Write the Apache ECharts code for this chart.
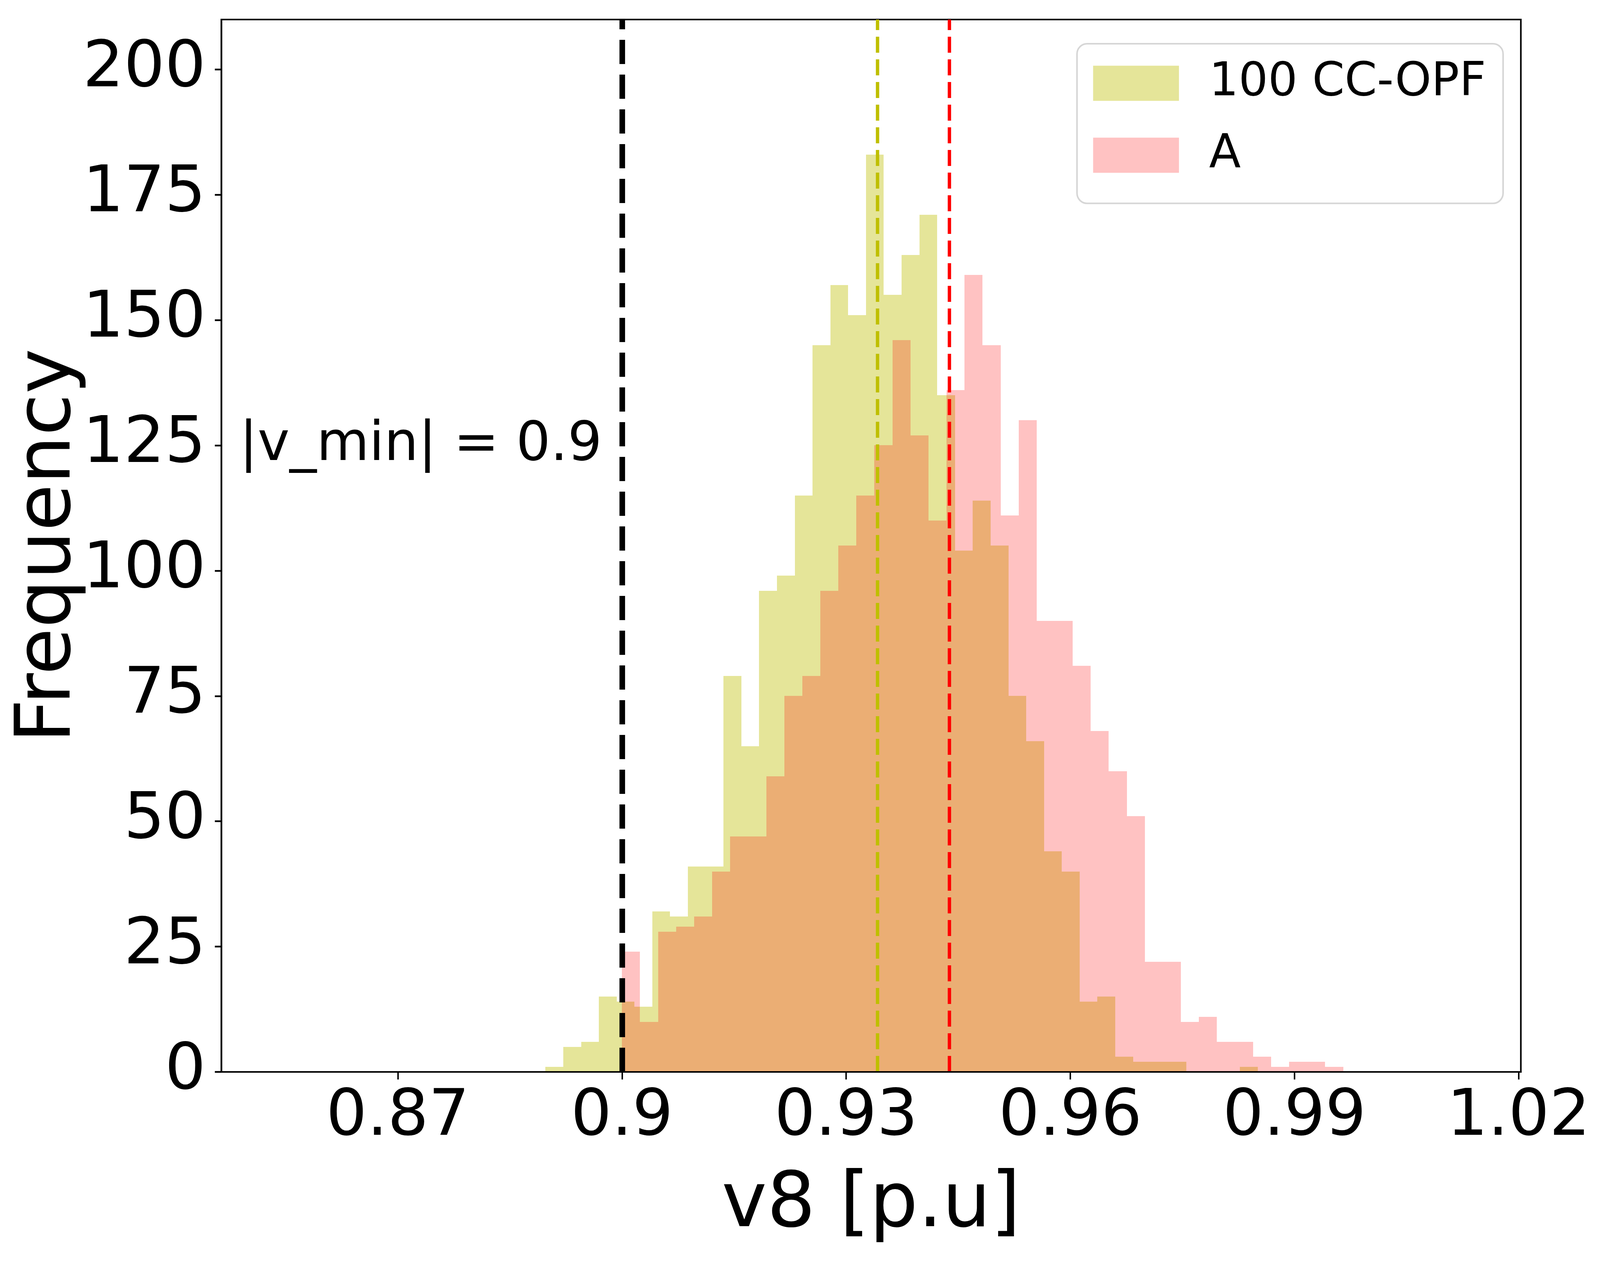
<!DOCTYPE html>
<html>
<head>
<meta charset="utf-8">
<script src="https://cdn.jsdelivr.net/npm/echarts@6/dist/echarts.min.js"></script>
<style>
html,body{margin:0;padding:0;background:#fff;overflow:hidden;}
#chart{width:100vw;height:100vh;}
</style>
</head>
<body>
<div id="chart"></div>
<script>
// ---- data ----
const seriesNames = ['100 CC-OPF', 'A'];
// histogram "100 CC-OPF": 40 bins
const ccopfBinStart = 0.88976;
const ccopfBinWidth = 0.002383;
const ccopfCounts = [1, 5, 6, 15, 14, 13, 32, 31, 41, 41, 79, 65, 96, 99, 115, 145, 157, 151, 183, 155,
                     163, 171, 135, 104, 114, 105, 75, 66, 44, 40, 14, 15, 3, 2, 2, 2, 0, 0, 0, 1];
// histogram "A": 40 bins
const aBinStart = 0.9000;
const aBinWidth = 0.002413;
const aCounts = [24, 10, 28, 29, 31, 40, 47, 47, 59, 75, 79, 96, 105, 115, 125, 146, 127, 110, 136, 159,
                 145, 111, 130, 90, 90, 81, 68, 60, 51, 22, 22, 10, 11, 6, 6, 3, 1, 2, 2, 1];
// vertical reference lines
const vMinLimit = 0.9;
const ccopfMean = 0.93418;
const aMean = 0.94382;
const annotationText = '|v_min| = 0.9';
const annotationPos = [0.84880, 124.9];
// axes
const xTicks = [0.87, 0.9, 0.93, 0.96, 0.99, 1.02];
const yTicks = [0, 25, 50, 75, 100, 125, 150, 175, 200];
const xRange = [0.84638, 1.0203];
const yRange = [0, 209.95];
const xAxisName = 'v8 [p.u]';
const yAxisName = 'Frequency';

// ---- layout: designed for 4771x3242, scaled to the real viewport ----
const W = window.innerWidth || 4771, H = window.innerHeight || 3242;
const sx = W / 4771, sy = H / 3242, sf = Math.sqrt(sx * sy);
const X = v => v * sx, Y = v => v * sy, F = v => v * sf;

function toBins(start, width, counts) {
  return counts.map((c, i) => [start + i * width, start + (i + 1) * width, c]);
}

function renderBins(params, api) {
  const c = api.value(2);
  if (!c) return;
  const a = api.coord([api.value(0), c]);
  const b = api.coord([api.value(1), 0]);
  const l = Math.round(a[0]), r = Math.round(b[0]);
  const t = Math.round(a[1]), btm = Math.round(b[1]);
  return {
    type: 'rect',
    shape: { x: l, y: t, width: r - l, height: btm - t },
    style: { fill: api.visual('color') }
  };
}

const FONT = 'DejaVu Sans';
const tickFs = F(178), nameFs = F(211), legendFs = F(128), noteFs = X(161);
const chart = echarts.init(document.getElementById('chart'), null, { renderer: 'canvas' });

const option = {
  animation: false,
  backgroundColor: '#ffffff',
  textStyle: { fontFamily: FONT, color: '#000' },
  grid: {
    left: X(660), right: X(236), top: Y(50), bottom: Y(497),
    show: true, borderColor: '#000', borderWidth: F(4.4), backgroundColor: 'transparent'
  },
  legend: {
    orient: 'vertical',
    right: X(289), top: Y(112),
    padding: [Y(101) - legendFs / 2, X(51), Y(123) - legendFs / 2, X(48)],
    itemWidth: X(256), itemHeight: Y(90), itemGap: Y(184) - legendFs,
    icon: 'rect',
    backgroundColor: 'rgba(255,255,255,0.8)',
    borderColor: '#d6d6d6', borderWidth: F(4.4), borderRadius: F(28),
    textStyle: { fontFamily: FONT, fontSize: legendFs, color: '#000', padding: [0, 0, 0, X(84)] },
    data: seriesNames
  },
  xAxis: {
    type: 'value',
    min: xRange[0], max: xRange[1],
    z: 5,
    name: xAxisName, nameLocation: 'middle', nameGap: Y(412) - 0.846 * nameFs, nameMoveOverlap: false,
    nameTextStyle: { fontFamily: FONT, fontSize: nameFs, color: '#000' },
    axisLine: { show: true, lineStyle: { color: '#000', width: F(4.4) } },
    axisTick: { show: true, length: Y(19.4), lineStyle: { color: '#000', width: X(4.4) }, customValues: xTicks },
    axisLabel: { fontFamily: FONT, fontSize: tickFs, color: '#000', margin: Y(52) - 0.101 * tickFs,
                 customValues: xTicks, formatter: v => String(Number(v.toFixed(4))) },
    splitLine: { show: false }
  },
  yAxis: {
    type: 'value',
    min: yRange[0], max: yRange[1],
    z: 5,
    name: yAxisName, nameLocation: 'middle', nameGap: X(433) - 0.154 * nameFs, nameRotate: 90,
    nameMoveOverlap: false,
    nameTextStyle: { fontFamily: FONT, fontSize: nameFs, color: '#000' },
    axisLine: { show: true, lineStyle: { color: '#000', width: F(4.4) } },
    axisTick: { show: true, length: X(19.4), lineStyle: { color: '#000', width: Y(4.4) }, customValues: yTicks },
    axisLabel: { fontFamily: FONT, fontSize: tickFs, color: '#000', margin: X(59) - 0.066 * tickFs, customValues: yTicks },
    splitLine: { show: false }
  },
  series: [
    {
      name: seriesNames[0],
      type: 'custom',
      renderItem: renderBins,
      itemStyle: { color: 'rgba(191,191,0,0.4)' },
      encode: { x: [0, 1], y: 2 },
      data: toBins(ccopfBinStart, ccopfBinWidth, ccopfCounts),
      z: 2
    },
    {
      name: seriesNames[1],
      type: 'custom',
      renderItem: renderBins,
      itemStyle: { color: 'rgba(255,0,0,0.24)' },
      encode: { x: [0, 1], y: 2 },
      data: toBins(aBinStart, aBinWidth, aCounts),
      z: 3
    },
    {
      name: 'refs',
      type: 'line',
      data: [],
      z: 4,
      silent: true,
      markLine: {
        silent: true,
        precision: 6,
        symbol: ['none', 'none'],
        label: { show: false },
        animation: false,
        data: [
          { xAxis: ccopfMean, lineStyle: { color: '#bfbf00', width: X(10), type: [Y(41), Y(17)] } },
          { xAxis: aMean, lineStyle: { color: '#ff0000', width: X(10), type: [Y(41), Y(17)] } },
          { xAxis: vMinLimit, lineStyle: { color: '#000000', width: X(16.7), type: [Y(62), Y(27)] } }
        ]
      },
      markPoint: {
        silent: true,
        symbol: 'circle', symbolSize: 0,
        data: [{ coord: annotationPos }],
        label: {
          show: true, position: 'inside', align: 'left', verticalAlign: 'middle',
          formatter: annotationText,
          fontFamily: FONT, fontSize: noteFs, color: '#000'
        }
      }
    }
  ]
};
chart.setOption(option);
</script>
</body>
</html>
